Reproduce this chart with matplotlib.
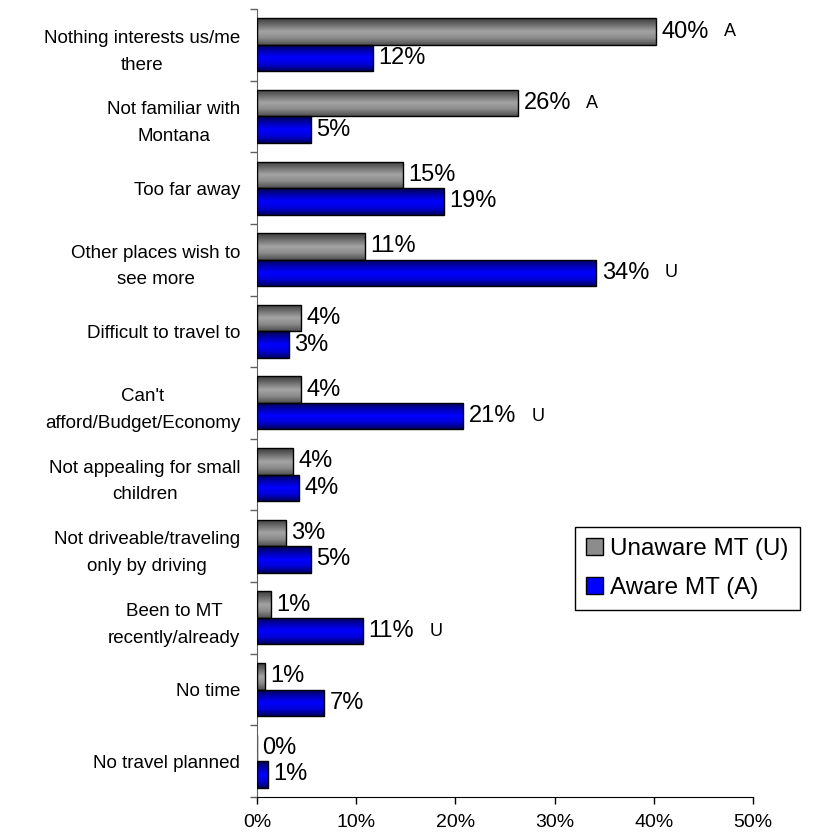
import numpy as np
import matplotlib
matplotlib.use("Agg")
import matplotlib.pyplot as plt
from matplotlib.colors import LinearSegmentedColormap
from matplotlib.patches import Patch

plt.rcParams['font.family'] = ['Liberation Sans', 'DejaVu Sans']

reasons = [
    "Nothing interests us/me\nthere",
    "Not familiar with\nMontana",
    "Too far away",
    "Other places wish to\nsee more",
    "Difficult to travel to",
    "Can't\nafford/Budget/Economy",
    "Not appealing for small\nchildren",
    "Not driveable/traveling\nonly by driving",
    "Been to MT\nrecently/already",
    "No time",
    "No travel planned",
]
unaware = [40.2, 26.3, 14.7, 10.9, 4.4, 4.4, 3.6, 2.9, 1.4, 0.8, 0.0]
aware = [11.7, 5.4, 18.8, 34.2, 3.2, 20.8, 4.2, 5.4, 10.7, 6.8, 1.1]
# significance letters (U = higher than unaware, A = higher than aware)
unaware_sig = ["A", "A", "", "", "", "", "", "", "", "", ""]
aware_sig = ["", "", "", "U", "", "U", "", "", "U", "", ""]
xticks = [0, 10, 20, 30, 40, 50]

gray_cmap = LinearSegmentedColormap.from_list(
    "gray_bar", ["#3c3c3c", "#6e6e6e", "#a4a4a4", "#8a8a8a", "#505050"])
blue_cmap = LinearSegmentedColormap.from_list(
    "blue_bar", ["#000050", "#0000b0", "#0000ff", "#0000d8", "#000060"])


def shade_bars(ax, bars, cmap):
    grad = np.linspace(0, 1, 64).reshape(-1, 1)
    for b in bars:
        x0, y0 = b.get_x(), b.get_y()
        w, h = b.get_width(), b.get_height()
        if w <= 0:
            continue
        im = ax.imshow(grad, cmap=cmap, aspect='auto', origin='upper',
                       extent=(x0, x0 + w, y0 + h, y0), zorder=2,
                       interpolation='bilinear')
        im.set_clip_path(b)
        b.set_facecolor('none')
        b.set_zorder(3)


fig = plt.figure(figsize=(8.31, 8.39), dpi=100)
ax = fig.add_axes([0.3093, 0.0501, 0.5969, 0.9392])

n = len(reasons)
y = np.arange(n)
h = 0.37
bars_u = ax.barh(y - h / 2, unaware, height=h, color='#808080',
                 edgecolor='black', linewidth=1.0)
bars_a = ax.barh(y + h / 2, aware, height=h, color='#0000ff',
                 edgecolor='black', linewidth=1.0)
shade_bars(ax, bars_u, gray_cmap)
shade_bars(ax, bars_a, blue_cmap)

for vals, pos, sig in [(unaware, y - h / 2, unaware_sig), (aware, y + h / 2, aware_sig)]:
    for v, p, s in zip(vals, pos, sig):
        t = ax.annotate(f"{round(v):d}%", xy=(v, p), xytext=(4, 0),
                        textcoords='offset points', va='center', ha='left',
                        fontsize=17)
        if s:
            ax.annotate(s, xy=(1, 0.5), xycoords=t, xytext=(11, 0),
                        textcoords='offset points', va='center', ha='left',
                        fontsize=13)

ax.set_xlim(0, 50)
ax.set_ylim(n - 0.5, -0.5)
ax.set_xticks(xticks)
ax.set_xticklabels([f"{t}%" for t in xticks], fontsize=14)
ax.tick_params(axis='x', direction='out', length=5, width=1, pad=7)

ax.set_yticks(np.arange(-0.5, n, 1.0))
ax.set_yticklabels([])
ax.tick_params(axis='y', which='major', direction='out', length=5,
               width=1, color='#606060')
ax.set_yticks(y, minor=True)
ax.set_yticklabels(reasons, minor=True, fontsize=13.5)
ax.tick_params(axis='y', which='minor', length=0, pad=12)
for lab in ax.get_yticklabels(minor=True):
    lab.set_multialignment('center')
    lab.set_linespacing(1.75)

ax.spines['top'].set_visible(False)
ax.spines['right'].set_visible(False)
ax.spines['left'].set_color('#606060')
ax.spines['bottom'].set_color('black')

handles = [Patch(facecolor='#8c8c8c', edgecolor='black', label='Unaware MT (U)'),
           Patch(facecolor='#0000ff', edgecolor='black', label='Aware MT (A)')]
leg = fig.legend(handles=handles, loc='upper left',
                 bbox_to_anchor=(575 / 831, 1 - 527 / 839),
                 fontsize=17.5, frameon=True, fancybox=False, framealpha=1,
                 edgecolor='black', handlelength=0.7, handleheight=0.7,
                 handletextpad=0.3, labelspacing=0.7, borderpad=0.45,
                 borderaxespad=0)
leg.get_frame().set_linewidth(1.0)

fig.savefig("out.png", dpi=100)
